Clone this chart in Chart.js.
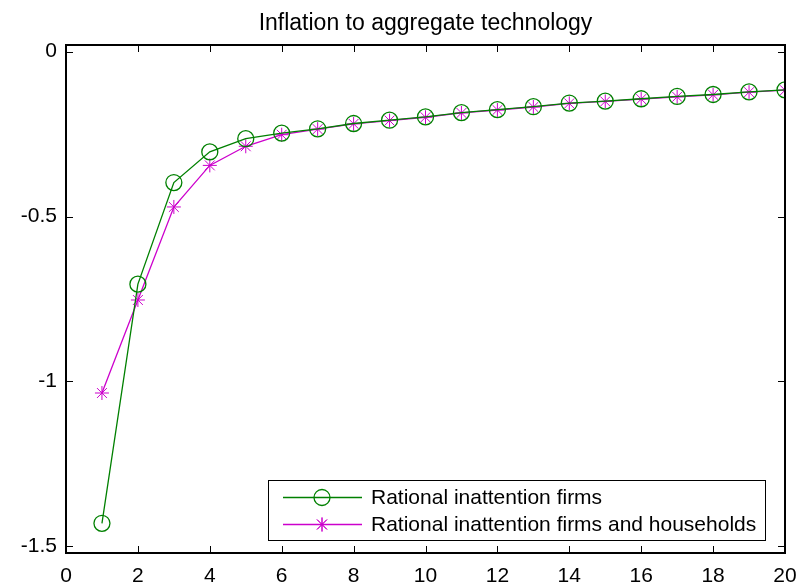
<!DOCTYPE html>
<html><head><meta charset="utf-8">
<script src="https://cdn.jsdelivr.net/npm/chart.js@4/dist/chart.umd.min.js"></script>
<style>html,body{margin:0;padding:0;background:#fff}#wrap{width:800px;height:587px}</style>
</head><body><div id="wrap"><canvas id="c" width="800" height="587"></canvas></div>
<script>
const periods = [1,2,3,4,5,6,7,8,9,10,11,12,13,14,15,16,17,18,19,20];
const firmsOnly = [-1.430,-0.705,-0.397,-0.304,-0.264,-0.247,-0.234,-0.218,-0.208,-0.198,-0.185,-0.176,-0.167,-0.156,-0.150,-0.143,-0.136,-0.130,-0.122,-0.116];
const firmsHouseholds = [-1.035,-0.753,-0.471,-0.345,-0.287,-0.252,-0.235,-0.219,-0.209,-0.199,-0.186,-0.177,-0.168,-0.157,-0.151,-0.144,-0.137,-0.131,-0.123,-0.117];
const xTicks = [0,2,4,6,8,10,12,14,16,18,20];
const yTicks = [-1.5,-1,-0.5,0];
const seriesNames = ['Rational inattention firms','Rational inattention firms and households'];
const titleText = 'Inflation to aggregate technology';

const GREEN = '#008000', MAG = '#cc00cc';
const FONT = '"Liberation Sans", Arial, sans-serif';

const boxPlugin = {
  id: 'boxPlugin',
  afterDraw(chart) {
    const ctx = chart.ctx, a = chart.chartArea, xs = chart.scales.x, ys = chart.scales.y;
    ctx.save();
    ctx.strokeStyle = '#000'; ctx.lineWidth = 1;
    ctx.beginPath();
    xTicks.forEach(v => { const p = Math.round(xs.getPixelForValue(v))+0.5;
      ctx.moveTo(p, a.bottom); ctx.lineTo(p, a.bottom-7);
      ctx.moveTo(p, a.top); ctx.lineTo(p, a.top+7); });
    yTicks.forEach(v => { const p = Math.round(ys.getPixelForValue(v))+0.5;
      ctx.moveTo(a.left, p); ctx.lineTo(a.left+7, p);
      ctx.moveTo(a.right, p); ctx.lineTo(a.right-7, p); });
    ctx.stroke();
    ctx.lineWidth = 2;
    ctx.strokeRect(Math.round(a.left), Math.round(a.top), Math.round(a.right-a.left), Math.round(a.bottom-a.top));
    // title
    ctx.fillStyle = '#000'; ctx.font = '23px ' + FONT; ctx.textAlign = 'center'; ctx.textBaseline = 'alphabetic';
    ctx.fillText(titleText, (a.left+a.right)/2, 30);
    // legend
    const L = 268.5, T = 480.5, R = 765.5, B = 540.5;
    ctx.lineWidth = 1;
    ctx.fillStyle = '#fff'; ctx.fillRect(L, T, R-L, B-T);
    ctx.strokeStyle = '#000'; ctx.strokeRect(L, T, R-L, B-T);
    const rows = [[497.5, GREEN, 'circle'], [524.5, MAG, 'star']];
    rows.forEach((r, i) => {
      const y = r[0];
      ctx.strokeStyle = r[1]; ctx.lineWidth = 1.3;
      ctx.beginPath(); ctx.moveTo(283, y); ctx.lineTo(362, y); ctx.stroke();
      if (r[2] === 'circle') { ctx.beginPath(); ctx.arc(322, y, 8, 0, Math.PI*2); ctx.stroke(); }
      else { ctx.lineWidth = 1; Chart.helpers.drawPoint(ctx, {pointStyle:'star', radius:7, borderWidth:1}, 322, y); ctx.stroke(); }
      ctx.fillStyle = '#000'; ctx.font = '21px ' + FONT; ctx.textAlign = 'left'; ctx.textBaseline = 'middle';
      ctx.fillText(seriesNames[i], 371, y + 1);
    });
    ctx.restore();
  }
};

new Chart(document.getElementById('c'), {
  type: 'line',
  data: {
    labels: periods,
    datasets: [
      { label: seriesNames[0], data: periods.map((p,i)=>({x:p,y:firmsOnly[i]})), borderColor: GREEN, backgroundColor: 'rgba(0,0,0,0)',
        borderWidth: 1.3, pointStyle: 'circle', pointRadius: 8, pointBorderWidth: 1.3, pointBorderColor: GREEN, pointBackgroundColor: 'rgba(0,0,0,0)', tension: 0 },
      { label: seriesNames[1], data: periods.map((p,i)=>({x:p,y:firmsHouseholds[i]})), borderColor: MAG, backgroundColor: MAG,
        borderWidth: 1.3, pointStyle: 'star', pointRadius: 7, pointBorderWidth: 1, pointBorderColor: MAG, tension: 0 }
    ]
  },
  options: {
    responsive: false, animation: false, devicePixelRatio: 1,
    layout: { padding: { top: 45, right: 15, left: 0, bottom: 0 } },
    plugins: { legend: { display: false }, title: { display: false }, tooltip: { enabled: false } },
    scales: {
      x: { type: 'linear', min: 0, max: 20,
        afterBuildTicks: s => { s.ticks = xTicks.map(v => ({value: v})); },
        afterFit: s => { s.height = 34; s.paddingLeft = 0; s.paddingRight = 0; },
        grid: { display: false, drawTicks: false }, border: { display: false },
        ticks: { color: '#000', font: { family: FONT, size: 21 }, padding: 11, maxRotation: 0, autoSkip: false } },
      y: { type: 'linear', min: -1.52, max: 0.02,
        afterBuildTicks: s => { s.ticks = yTicks.map(v => ({value: v})); },
        afterFit: s => { s.width = 66; s.paddingTop = 0; s.paddingBottom = 0; },
        grid: { display: false, drawTicks: false }, border: { display: false },
        ticks: { color: '#000', font: { family: FONT, size: 21 }, padding: 9, autoSkip: false,
          callback: v => String(v) } }
    }
  },
  plugins: [boxPlugin]
});
</script></body></html>
